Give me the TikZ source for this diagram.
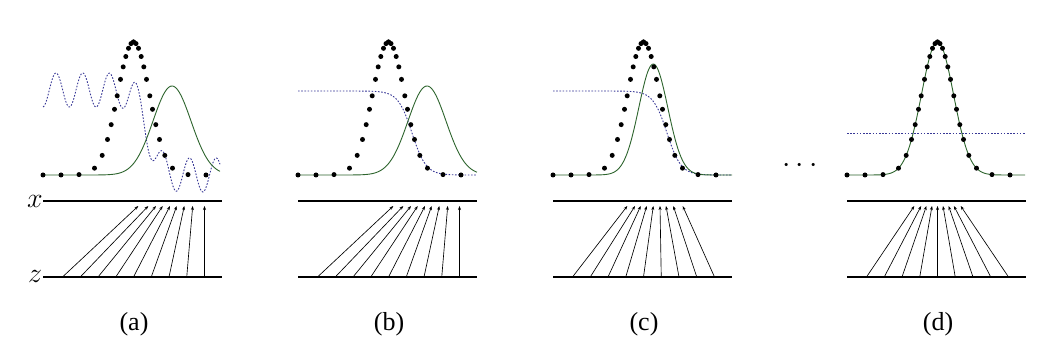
\RequirePackage{fix-cm}
\documentclass[tikz,border=0pt]{standalone}
\usepackage{fontspec}
\setmainfont{Liberation Serif}
\usetikzlibrary{arrows.meta}
\definecolor{dblue}{RGB}{55,55,150}
\definecolor{ggreen}{RGB}{45,100,45}
\tikzset{
  ganfig/.style={x=1pt,y=1pt},
  axisline/.style={line width=1.3pt},
  genline/.style={ggreen,line width=0.9pt},
  discline/.style={dblue,line width=0.9pt,dash pattern=on 1.6pt off 1.6pt},
  mapline/.style={line width=0.65pt,-{Stealth[length=4pt,width=3pt]}},
  panellabel/.style={font=\fontsize{26}{30}\selectfont},
  varlabel/.style={font=\fontsize{28}{30}\selectfont},
  declare function={
    gauss(\u,\c,\s,\h)=\h*exp(-0.5*((\u-\c)/\s)^2);
    pdata(\u)=gauss(\u,90.5,16,133);
    sig(\u,\c,\s)=1/(1+exp(min(max((\u-\c)/\s,-9),9)));
  }
}

% common parts of one panel: x and z lines, mapping, data points, label
\newcommand{\ganpanel}[2]{%
  \draw[axisline] (0,-26) -- (179,-26);
  \draw[axisline] (0,-102) -- (179,-102);
  \foreach \xt [count=\k from 0] in {#2} {
    \coordinate (z#1\k) at ({19.5+17.75*\k},-102);
    \coordinate (x#1\k) at (\xt,-31);
    \draw[mapline] (z#1\k) -- (x#1\k);
  }
  \foreach \d in {0,2.5,5,7.7,10.3,13,16.3,19,22.3,26,31.3,39,54.5,72.5} {
    \fill ({90.5-\d},{pdata(90.5-\d)}) circle (2.5);
    \fill ({90.5+\d},{pdata(90.5+\d)}) circle (2.5);
  }
  \fill (0,{pdata(0)}) circle (2.5);
  \node[panellabel] (lab#1) at (91,-149) {(#1)};
}

\begin{document}
\begin{tikzpicture}[ganfig]
  \useasboundingbox (0,0) rectangle (1047,356);
  \node[varlabel] (xlab) at (35,155) {$x$};
  \node[varlabel] (zlab) at (35,80) {$z$};

  % (a)
  \begin{scope}[xshift=43pt,yshift=181pt]
    \draw[discline] plot[domain=0:177,samples=240,smooth] (\x,{85*sig(\x,105,6)+17*sin(13.483*(\x-6.33))});
    \draw[genline] plot[domain=0:177,samples=120,smooth] (\x,{gauss(\x,129,19,89)});
    \ganpanel{a}{95.3,105.3,113,119.7,127,133.7,141.3,149.7,161.5}
  \end{scope}

  % (b)
  \begin{scope}[xshift=298pt,yshift=181pt]
    \draw[discline] plot[domain=0:179,samples=120,smooth] (\x,{84*sig(\x,114,7)});
    \draw[genline] plot[domain=0:179,samples=120,smooth] (\x,{gauss(\x,129,19,89)});
    \ganpanel{b}{95.3,105.3,113,119.7,127,133.7,141.3,149.7,161.5}
  \end{scope}

  % (c)
  \begin{scope}[xshift=553pt,yshift=181pt]
    \draw[discline] plot[domain=0:179,samples=120,smooth] (\x,{84*sig(\x,114,7)});
    \draw[genline] plot[domain=0:179,samples=120,smooth] (\x,{gauss(\x,100.3,14.5,111)});
    \ganpanel{c}{74.3,82,87.7,93.7,100.3,107,113,120.3,129.7}
  \end{scope}

  \node[varlabel,font=\fontsize{30}{32}\selectfont] (dots) at (800,190) {$\cdots$};

  % (d)
  \begin{scope}[xshift=847pt,yshift=181pt]
    \draw[discline] (0,41.7) -- (178,41.7);
    \draw[genline] plot[domain=0:178,samples=120,smooth] (\x,{pdata(\x)});
    \ganpanel{d}{67.3,74.1,79.4,85,90.5,96,101.6,106.9,113.7}
  \end{scope}
\end{tikzpicture}
\end{document}
